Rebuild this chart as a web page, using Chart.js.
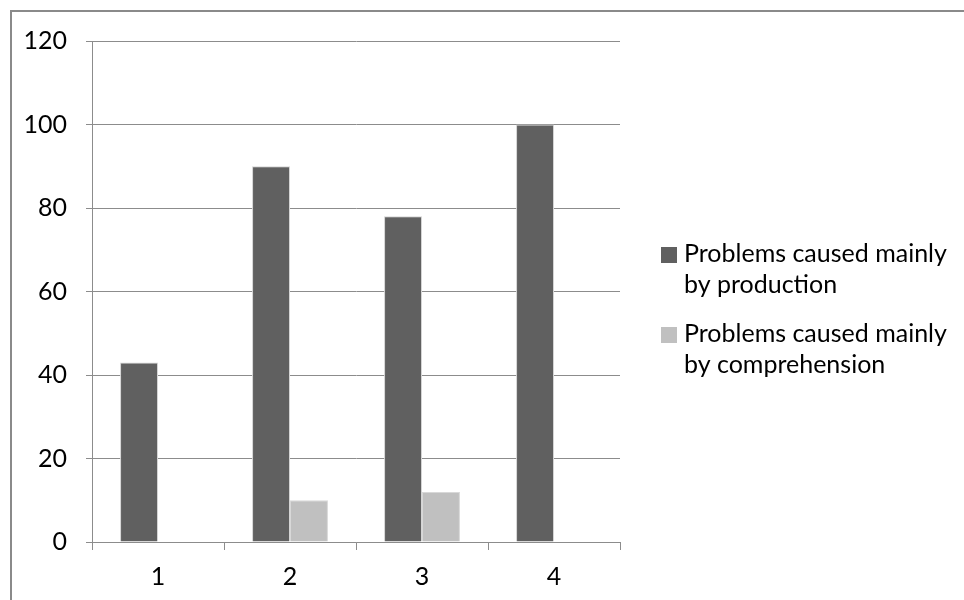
<!DOCTYPE html>
<html>
<head>
<meta charset="utf-8">
<script src="https://cdn.jsdelivr.net/npm/chart.js@4"></script>
<style>
  html, body { margin: 0; padding: 0; background: #ffffff; }
  #wrap { width: 964px; height: 600px; position: relative; }
</style>
</head>
<body>
<div id="wrap"><canvas id="chart" width="964" height="600"></canvas></div>
<script>
// Categories and series
const categories = ['1', '2', '3', '4'];
const productionValues = [43, 90, 78, 100];
const comprehensionValues = [0, 10, 12, 0];
const seriesNames = ['Problems caused mainly by production', 'Problems caused mainly by comprehension'];
const seriesColors = ['#606060', '#c0c0c0'];
const yTicks = [0, 20, 40, 60, 80, 100, 120];

const FONT = 'Lato, "Open Sans", sans-serif';
const FONT_SIZE = 25;
const AXIS_GREY = '#8c8c8c';

// Outer frame (left and top edges of the chart box)
const framePlugin = {
  id: 'frame',
  beforeDraw(chart) {
    const ctx = chart.ctx;
    ctx.save();
    ctx.strokeStyle = '#8a8a8a';
    ctx.lineWidth = 2;
    ctx.beginPath();
    ctx.moveTo(11, chart.height);
    ctx.lineTo(11, 11);
    ctx.lineTo(chart.width, 11);
    ctx.stroke();
    ctx.restore();
  }
};

// Right-hand legend with wrapped labels
const sideLegend = {
  id: 'sideLegend',
  afterDraw(chart) {
    const ctx = chart.ctx;
    const boxX = 661, textX = 684, maxW = 270, lineH = 31;
    const startY = [254, 334];
    ctx.save();
    ctx.font = FONT_SIZE + 'px ' + FONT;
    ctx.textBaseline = 'middle';
    ctx.fillStyle = '#000';
    chart.data.datasets.forEach((ds, i) => {
      const words = ds.label.split(' ');
      const lines = [];
      let cur = '';
      words.forEach(w => {
        const t = cur ? cur + ' ' + w : w;
        if (ctx.measureText(t).width > maxW && cur) { lines.push(cur); cur = w; }
        else cur = t;
      });
      if (cur) lines.push(cur);
      const y0 = startY[i];
      ctx.fillStyle = ds.backgroundColor;
      ctx.fillRect(boxX, y0 - 7, 16, 16);
      ctx.fillStyle = '#000';
      lines.forEach((ln, k) => ctx.fillText(ln, textX, y0 + k * lineH));
    });
    ctx.restore();
  }
};

new Chart(document.getElementById('chart'), {
  type: 'bar',
  data: {
    labels: categories,
    datasets: [
      { label: seriesNames[0], data: productionValues, backgroundColor: seriesColors[0],
        borderColor: '#d4d4d4', borderWidth: 1 },
      { label: seriesNames[1], data: comprehensionValues, backgroundColor: seriesColors[1],
        borderColor: '#d8d8d8', borderWidth: 1 }
    ]
  },
  options: {
    responsive: false,
    animation: false,
    layout: { padding: { left: 0, right: 344, top: 41, bottom: 0 } },
    categoryPercentage: 0.575,
    barPercentage: 1.0,
    plugins: { legend: { display: false }, tooltip: { enabled: false } },
    scales: {
      x: {
        grid: { display: true, drawOnChartArea: false, drawTicks: true, tickLength: 8, color: AXIS_GREY, offset: true },
        border: { display: true, color: AXIS_GREY, width: 1 },
        ticks: { color: '#000', font: { family: FONT, size: FONT_SIZE }, padding: 12 },
        afterFit(s) { s.height = 58; }
      },
      y: {
        min: 0, max: 120,
        afterBuildTicks(s) { s.ticks = yTicks.map(v => ({ value: v })); },
        grid: { color: AXIS_GREY, tickLength: 6, drawTicks: true },
        border: { display: true, color: AXIS_GREY, width: 1 },
        ticks: { color: '#000', font: { family: FONT, size: FONT_SIZE }, padding: 19 },
        afterFit(s) { s.width = 92; }
      }
    }
  },
  plugins: [framePlugin, sideLegend]
});
</script>
</body>
</html>
